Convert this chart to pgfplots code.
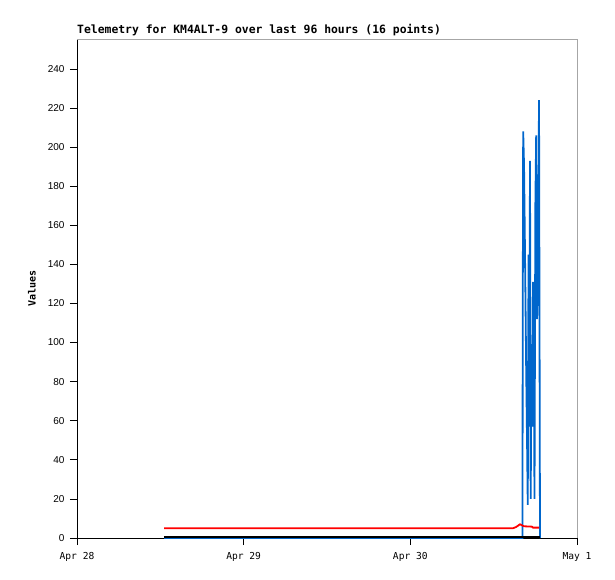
\documentclass[border=0pt]{standalone}
\usepackage{fontspec}
\setmainfont{Liberation Sans}
\newfontfamily\mono{DejaVu Sans Mono}
\usepackage{pgfplots}
\pgfplotsset{compat=1.18}
\definecolor{serblue}{HTML}{0066CC}
\begin{document}
\begin{tikzpicture}
\path[use as bounding box] (-77pt,-41pt) rectangle (538pt,538pt);
\begin{axis}[at={(0,0)}, anchor=south west, scale only axis,
  width=500pt, height=499pt,
  xmin=0, xmax=72, ymin=0, ymax=255.3,
  enlargelimits=false,
  /pgf/number format/assume math mode=true,
  axis lines=left, axis line style={-, black, line width=0.8pt},
  xtick={0,24,48,72}, xticklabels={Apr 28,Apr 29,Apr 30,May 1},
  ytick={0,20,...,240},
  tick align=outside, major tick length=7pt,
  tick style={black, line width=0.8pt},
  x tick label style={font=\mono\fontsize{9.6}{10}\selectfont, yshift=-4pt},
  y tick label style={font=\fontsize{10}{11}\selectfont, xshift=-2pt},
  ylabel={\mono\bfseries Values}, ylabel style={font=\fontsize{11.5}{12}\selectfont},
  every axis y label/.style={at={(axis description cs:-0.09,0.5)}, rotate=90, anchor=center},
  clip=false,
]
\draw[gray!70, line width=0.8pt] (rel axis cs:0,1) -- (rel axis cs:1,1) -- (rel axis cs:1,0);
\node[anchor=base west, font=\mono\bfseries\fontsize{11.4}{12}\selectfont, inner sep=0pt] at ([yshift=5pt]rel axis cs:0,1) {Telemetry for KM4ALT-9 over last 96 hours (16 points)};
% blue
\addplot[serblue, line width=1.8pt, mark=none] coordinates {
(12.53,0) (64.15,0) (64.18,104) (64.25,208) (64.37,191) (64.48,156) (64.58,122) (64.68,87)
(64.80,52) (64.91,17) (65.02,145) (65.13,57) (65.23,193) (65.33,20) (65.45,94) (65.55,57)
(65.66,131) (65.78,94) (65.88,20) (66.00,169) (66.12,206) (66.24,112) (66.38,131) (66.53,224)
(66.60,113) (66.67,0)
};
% red
\addplot[red, line width=1.8pt, mark=none] coordinates {
(12.53,5) (62.78,5) (63.22,5.6) (63.50,6.3) (63.79,7) (64.08,6.5) (64.37,6) (65.52,5.8)
(65.66,5.3) (66.53,5.3)
};
% black
\addplot[black, line width=1.8pt, mark=none] coordinates {
(12.53,0.4) (66.67,0.4)
};
\end{axis}
\end{tikzpicture}
\end{document}
